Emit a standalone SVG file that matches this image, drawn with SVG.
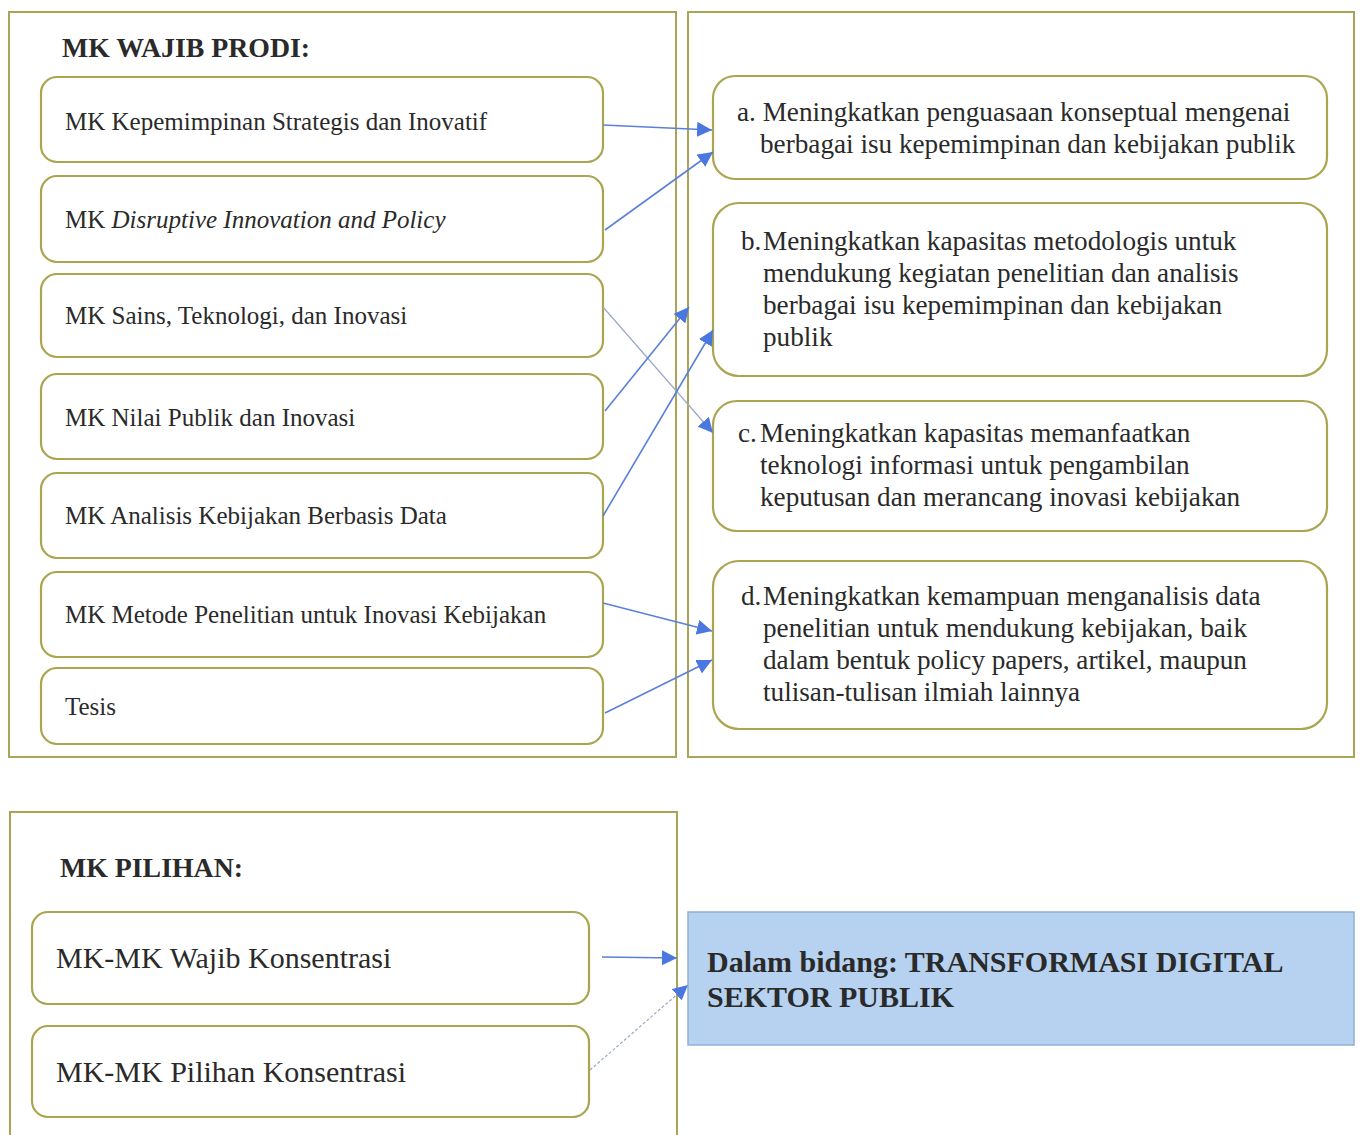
<svg xmlns="http://www.w3.org/2000/svg" width="1363" height="1135" viewBox="0 0 1363 1135">
<style>
.frame{fill:none;stroke:#a9a456;stroke-width:2}
.box{fill:#fff;stroke:#aaa54e;stroke-width:2.2}
.t{font-family:"Liberation Serif","Times New Roman",serif;fill:#2a2a2a;font-size:25px}
.r{font-family:"Liberation Serif","Times New Roman",serif;fill:#2a2a2a;font-size:27.2px}
.h{font-family:"Liberation Serif","Times New Roman",serif;fill:#2a2a2a;font-size:27.8px;font-weight:bold}
.b{font-family:"Liberation Serif","Times New Roman",serif;fill:#2a2a2a;font-size:30px}
.c{fill:none;stroke:#5a80d8;stroke-width:1.6}
.thin{fill:none;stroke:#9aa8c8;stroke-width:1.2}
</style>
<defs>
<marker id="ahb" viewBox="0 0 10 10" refX="10" refY="5" markerWidth="15" markerHeight="15" markerUnits="userSpaceOnUse" orient="auto">
<path d="M0,0 L10,5 L0,10 z" fill="#4a78e0"/>
</marker>
</defs>
<rect width="1363" height="1135" fill="#fff"/>
<g id="frame-wajib"><rect class="frame" x="9" y="12" width="667" height="745"/><text class="h" x="62" y="57">MK WAJIB PRODI:</text></g>
<g id="frame-cpl"><rect class="frame" x="688" y="12" width="666" height="745"/></g>
<g id="frame-pilihan"><rect class="frame" x="10" y="812" width="667" height="330"/><text class="h" x="60" y="877">MK PILIHAN:</text></g>

<g id="mk1"><rect class="box" x="41" y="77" width="562" height="85" rx="16"/><text class="t" x="65" y="130">MK Kepemimpinan Strategis dan Inovatif</text></g>
<g id="mk2"><rect class="box" x="41" y="176" width="562" height="86" rx="16"/><text class="t" x="65" y="228">MK <tspan font-style="italic">Disruptive Innovation and Policy</tspan></text></g>
<g id="mk3"><rect class="box" x="41" y="274" width="562" height="83" rx="16"/><text class="t" x="65" y="324">MK Sains, Teknologi, dan Inovasi</text></g>
<g id="mk4"><rect class="box" x="41" y="374" width="562" height="85" rx="16"/><text class="t" x="65" y="426">MK Nilai Publik dan Inovasi</text></g>
<g id="mk5"><rect class="box" x="41" y="473" width="562" height="85" rx="16"/><text class="t" x="65" y="524">MK Analisis Kebijakan Berbasis Data</text></g>
<g id="mk6"><rect class="box" x="41" y="572" width="562" height="85" rx="16"/><text class="t" x="65" y="623">MK Metode Penelitian untuk Inovasi Kebijakan</text></g>
<g id="mk7"><rect class="box" x="41" y="668" width="562" height="76" rx="16"/><text class="t" x="65" y="715">Tesis</text></g>

<g id="cpl-a"><rect class="box" x="713" y="76" width="614" height="103" rx="22"/>
<text class="r" x="737" y="121">a. Meningkatkan penguasaan konseptual mengenai</text>
<text class="r" x="760" y="153">berbagai isu kepemimpinan dan kebijakan publik</text></g>
<g id="cpl-b"><rect class="box" x="713" y="203" width="614" height="173" rx="26"/>
<text class="r" x="741" y="250">b.</text>
<text class="r" x="763" y="250">Meningkatkan kapasitas metodologis untuk</text>
<text class="r" x="763" y="282">mendukung kegiatan penelitian dan analisis</text>
<text class="r" x="763" y="314">berbagai isu kepemimpinan dan kebijakan</text>
<text class="r" x="763" y="346">publik</text></g>
<g id="cpl-c"><rect class="box" x="713" y="401" width="614" height="130" rx="24"/>
<text class="r" x="738" y="442">c.</text>
<text class="r" x="760" y="442">Meningkatkan kapasitas memanfaatkan</text>
<text class="r" x="760" y="474">teknologi informasi untuk pengambilan</text>
<text class="r" x="760" y="506">keputusan dan merancang inovasi kebijakan</text></g>
<g id="cpl-d"><rect class="box" x="713" y="561" width="614" height="168" rx="26"/>
<text class="r" x="741" y="605">d.</text>
<text class="r" x="763" y="605">Meningkatkan kemampuan menganalisis data</text>
<text class="r" x="763" y="637">penelitian untuk mendukung kebijakan, baik</text>
<text class="r" x="763" y="669">dalam bentuk policy papers, artikel, maupun</text>
<text class="r" x="763" y="701">tulisan-tulisan ilmiah lainnya</text></g>

<g id="pil1"><rect class="box" x="32" y="912" width="557" height="92" rx="16"/><text class="b" x="56" y="968">MK-MK Wajib Konsentrasi</text></g>
<g id="pil2"><rect class="box" x="32" y="1026" width="557" height="91" rx="16"/><text class="b" x="56" y="1082">MK-MK Pilihan Konsentrasi</text></g>
<g id="bidang"><rect x="688" y="912" width="666" height="133" fill="#b7d2f0" stroke="#8fb0d8" stroke-width="1.5"/>
<text class="b" font-weight="bold" x="707" y="972">Dalam bidang: TRANSFORMASI DIGITAL</text>
<text class="b" font-weight="bold" x="707" y="1007">SEKTOR PUBLIK</text></g>

<g id="connectors">
<line class="c" x1="603" y1="125" x2="712" y2="130" marker-end="url(#ahb)"/>
<line class="c" x1="605" y1="230" x2="713" y2="152" marker-end="url(#ahb)"/>
<line class="thin" x1="603" y1="307" x2="713" y2="433" marker-end="url(#ahb)"/>
<line class="c" x1="605" y1="411" x2="689" y2="307" marker-end="url(#ahb)"/>
<line class="c" x1="603" y1="516" x2="713" y2="330" marker-end="url(#ahb)"/>
<line class="c" x1="603" y1="603" x2="712" y2="631" marker-end="url(#ahb)"/>
<line class="c" x1="605" y1="713" x2="712" y2="660" marker-end="url(#ahb)"/>
<line class="c" x1="602" y1="957" x2="677" y2="958" marker-end="url(#ahb)"/>
<line class="thin" stroke-dasharray="3 2" x1="590" y1="1070" x2="688" y2="985" marker-end="url(#ahb)"/>
</g>
</svg>
